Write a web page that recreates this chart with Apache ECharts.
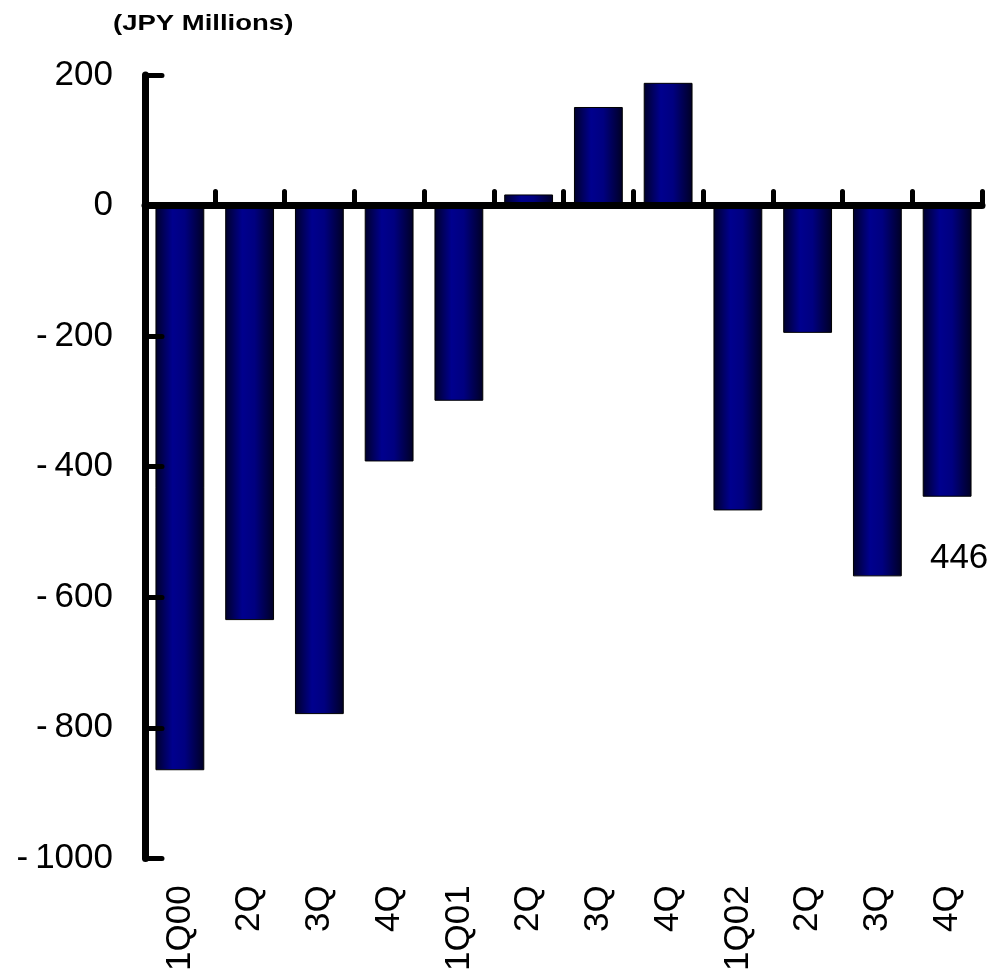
<!DOCTYPE html>
<html>
<head>
<meta charset="utf-8">
<script src="https://cdn.jsdelivr.net/npm/echarts@6/dist/echarts.min.js"></script>
<style>
  html, body { margin: 0; padding: 0; background: #fff; }
  #chart { width: 991px; height: 974px; }
</style>
</head>
<body>
<div id="chart"></div>
<script>
// Quarterly results, JPY millions
const quarters = ['1Q00', '2Q', '3Q', '4Q', '1Q01', '2Q', '3Q', '4Q', '1Q02', '2Q', '3Q', '4Q'];
const values = [-865, -635, -779, -392, -299, 17, 151, 188, -467, -195, -568, -446];
const yTicks = { min: -1000, max: 200, step: 200 };
const unitLabel = '(JPY Millions)';
// only the latest quarter carries a value label
const labelledIndex = 11;

const FONT = 'Liberation Sans, Arial, sans-serif';

const barFill = new echarts.graphic.LinearGradient(0, 0, 1, 0, [
  { offset: 0, color: '#00002a' },
  { offset: 0.35, color: '#00008e' },
  { offset: 0.6, color: '#000080' },
  { offset: 1, color: '#000024' }
]);

const chart = echarts.init(document.getElementById('chart'));
chart.setOption({
  animation: false,
  backgroundColor: '#ffffff',
  graphic: [{
    type: 'text',
    left: 113, top: 13,
    scaleX: 1.25,
    originX: 0,
    style: { text: unitLabel, font: 'bold 22px ' + FONT, fill: '#000' }
  }],
  grid: { left: 145, right: 9, top: 75, bottom: 114, containLabel: false },
  xAxis: [
    {
      type: 'category',
      data: quarters,
      position: 'bottom',
      axisLine: { onZero: true, lineStyle: { color: '#000', width: 7, cap: 'round' } },
      axisTick: { show: true, inside: true, length: 14, lineStyle: { color: '#000', width: 5, cap: 'round' } },
      axisLabel: { show: false },
      splitLine: { show: false },
      z: 5
    },
    {
      type: 'category',
      data: quarters,
      position: 'bottom',
      axisLine: { show: false, onZero: false },
      axisTick: { show: false },
      axisLabel: {
        show: true, rotate: 90, margin: 27,
        fontFamily: FONT, fontSize: 35, color: '#000'
      },
      splitLine: { show: false }
    }
  ],
  yAxis: {
    type: 'value',
    min: yTicks.min, max: yTicks.max, interval: yTicks.step,
    axisLine: { show: true, lineStyle: { color: '#000', width: 7, cap: 'round' } },
    axisTick: { show: true, inside: true, length: 17, lineStyle: { color: '#000', width: 5, cap: 'round' } },
    axisLabel: {
      margin: 32,
      fontFamily: FONT, fontSize: 35, color: '#000',
      formatter: v => (v < 0 ? '-\u2009' + Math.abs(v) : String(v))
    },
    splitLine: { show: false },
    z: 5
  },
  series: [{
    type: 'bar',
    xAxisIndex: 0,
    data: values.map((v, i) => ({
      value: v,
      label: i === labelledIndex ? {
        show: true, position: 'bottom', distance: 44, offset: [12, 0],
        fontFamily: FONT, fontSize: 35, color: '#000',
        formatter: p => String(Math.abs(p.value))
      } : { show: false }
    })),
    barCategoryGap: '30%',
    itemStyle: { color: barFill, borderColor: '#000', borderWidth: 1 }
  }]
});
</script>
</body>
</html>
